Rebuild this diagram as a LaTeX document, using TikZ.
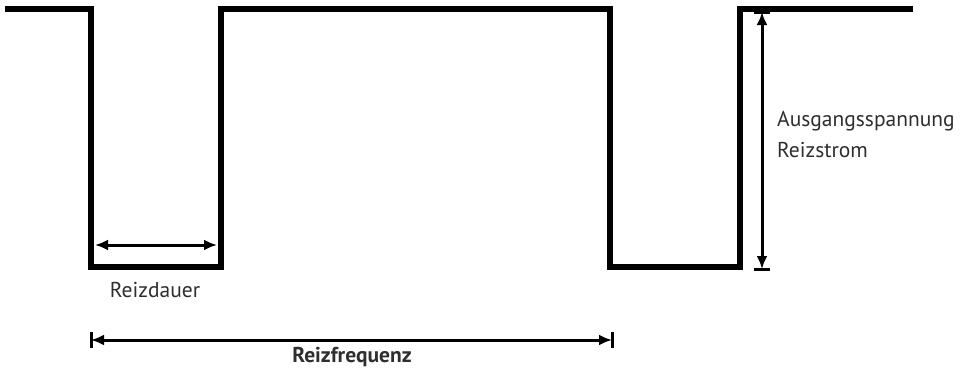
\documentclass[tikz,border=0pt]{standalone}
\usepackage{fontspec}
\setmainfont{PT Sans}
\usetikzlibrary{arrows.meta}
\begin{document}
\begin{tikzpicture}[x=1pt,y=-1pt,
  signal/.style={line width=6.3pt,line join=miter,line cap=butt},
  dim/.style={line width=3pt,{Latex[length=13pt,width=11pt]}-{Latex[length=13pt,width=11pt]}},
  dimbar/.style={line width=3pt},
  lbl/.style={font=\fontsize{21.5}{31}\selectfont,text=black!82,inner sep=0pt}]
\useasboundingbox (0,0) rectangle (967,373);
% pulse train
\coordinate (s0) at (5,9);
\coordinate (a1) at (91,9);
\coordinate (a2) at (91,267);
\coordinate (b2) at (221,267);
\coordinate (b1) at (221,9);
\coordinate (c1) at (610,9);
\coordinate (c2) at (610,267);
\coordinate (d2) at (740,267);
\coordinate (d1) at (740,9);
\coordinate (e1) at (913,9);
\draw[signal] (s0) -- (a1) -- (a2) -- (b2) -- (b1) -- (c1) -- (c2) -- (d2) -- (d1) -- (e1);
% pulse width
\coordinate (pw1) at (95,245);
\coordinate (pw2) at (217,245);
\draw[dim] (pw1) -- (pw2);
\node[lbl] (tpw) at (155,290) {Reizdauer};
% period
\coordinate (pl) at (91,340);
\coordinate (pr) at (612,340);
\draw[dimbar] ([yshift=-8pt]pl) -- ([yshift=8pt]pl);
\draw[dimbar] ([yshift=-8pt]pr) -- ([yshift=8pt]pr);
\draw[dim] (pl) -- (pr);
\node[lbl,font=\fontsize{21.5}{26}\selectfont\bfseries] (tpr) at (352,357) {Reizfrequenz};
% amplitude
\coordinate (at) at (762,12);
\coordinate (ab) at (762,269);
\draw[dimbar] ([xshift=-8pt]at) -- ([xshift=8pt]at);
\draw[dimbar] ([xshift=-8pt]ab) -- ([xshift=8pt]ab);
\draw[dim] (at) -- (ab);
\node[lbl,anchor=north west,align=left] (tamp) at (777,111) {Ausgangsspannung\\Reizstrom};
\end{tikzpicture}
\end{document}
